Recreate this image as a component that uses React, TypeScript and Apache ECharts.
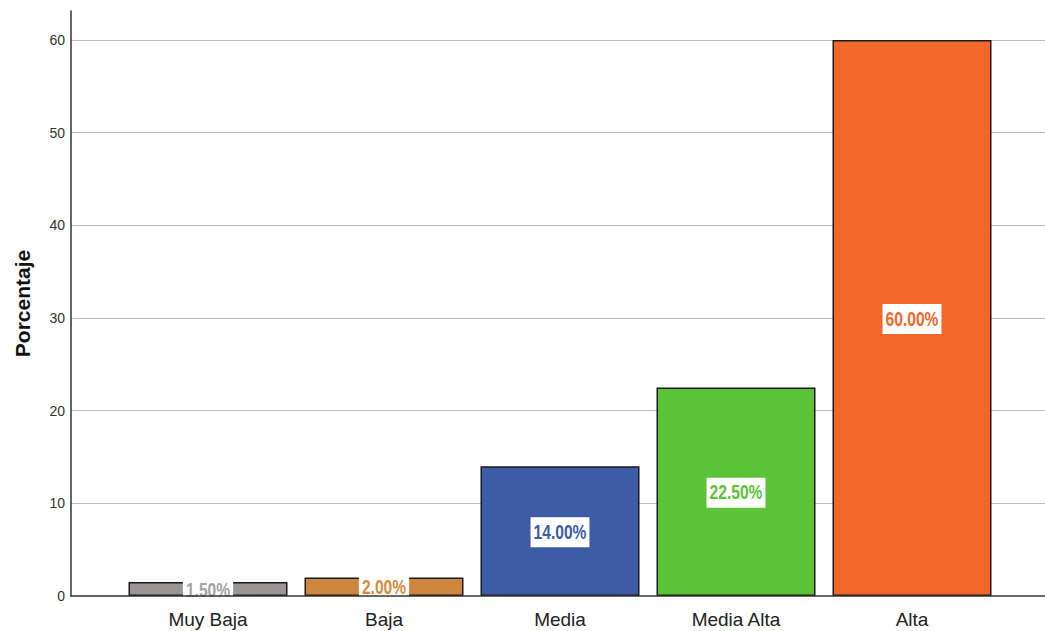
import React, { useEffect, useRef } from "react";
import * as echarts from "echarts";

const categories = ["Muy Baja", "Baja", "Media", "Media Alta", "Alta"];
const values = [1.5, 2.0, 14.0, 22.5, 60.0];
const barColors = ["#9a9696", "#cf873f", "#3e5ba8", "#5cc338", "#f2682b"];
const labelColors = ["#a3a3a3", "#d48c40", "#3e5ba8", "#5cc338", "#f2682b"];
const yTicks = [0, 10, 20, 30, 40, 50, 60];

const LABEL_FONT = "bold 19.5px 'Liberation Sans', Arial, sans-serif";
const LABEL_SCALE_X = 0.8;

function measure(text: string): number {
  const c = document.createElement("canvas").getContext("2d");
  if (!c) return text.length * 11;
  c.font = LABEL_FONT;
  return c.measureText(text).width;
}

export default function App() {
  const ref = useRef<HTMLDivElement>(null);
  useEffect(() => {
    document.body.style.margin = "0";
    const chart = echarts.init(ref.current!, null, { renderer: "svg" });
    const yMax = 63.13;
    chart.setOption({
      animation: false,
      backgroundColor: "#ffffff",
      grid: [
        { left: 71, right: 0, top: 11, bottom: 35 },
        { left: 120, right: 45, top: 11, bottom: 35 },
      ],
      xAxis: [
        {
          gridIndex: 0,
          type: "value",
          min: 0,
          max: 1,
          z: 10,
          axisLine: { show: true, onZero: false, lineStyle: { color: "#333", width: 1.5 } },
          axisTick: { show: false },
          axisLabel: { show: false },
          splitLine: { show: false },
        },
        {
          gridIndex: 1,
          type: "category",
          data: categories,
          axisLine: { show: false },
          axisTick: { show: false },
          axisLabel: {
            margin: 14,
            fontFamily: "Liberation Sans, Arial, sans-serif",
            fontSize: 19,
            color: "#222",
          },
        },
      ],
      yAxis: [
        {
          gridIndex: 0,
          type: "value",
          min: 0,
          max: yMax,
          interval: 10,
          name: "Porcentaje",
          nameLocation: "middle",
          nameGap: 38,
          nameTextStyle: {
            fontFamily: "Liberation Sans, Arial, sans-serif",
            fontWeight: "bold",
            fontSize: 21,
            color: "#111",
          },
          axisLine: { show: true, lineStyle: { color: "#333", width: 1.5 } },
          axisTick: { show: false },
          axisLabel: {
            showMaxLabel: false,
            margin: 6,
            fontFamily: "Liberation Sans, Arial, sans-serif",
            fontSize: 14,
            color: "#333",
            formatter: (v: number) => (yTicks.includes(v) ? String(v) : ""),
          },
          splitLine: {
            show: true,
            showMinLine: false,
            showMaxLine: false,
            lineStyle: { color: "#bdbdbd", width: 1 },
          },
        },
        {
          gridIndex: 1,
          type: "value",
          min: 0,
          max: yMax,
          show: false,
          splitLine: { show: false },
        },
      ],
      series: [
        {
          type: "bar",
          xAxisIndex: 1,
          yAxisIndex: 1,
          barWidth: 159,
          data: values.map((v, i) => ({
            value: v,
            itemStyle: { color: barColors[i], borderColor: "#1a1a1a", borderWidth: 1.5 },
          })),
        },
        {
          type: "custom",
          xAxisIndex: 1,
          yAxisIndex: 1,
          z: 3,
          data: values.map((v, i) => [i, v]),
          encode: { x: 0, y: 1 },
          renderItem: (params: any, api: any) => {
            const idx = api.value(0);
            const val = api.value(1);
            const p = api.coord([idx, val / 2]);
            const cy = p[1] + 1;
            const text = val.toFixed(2) + "%";
            const w = measure(text) * LABEL_SCALE_X + 6;
            const h = 30;
            return {
              type: "group",
              children: [
                {
                  type: "rect",
                  shape: { x: p[0] - w / 2, y: cy - h / 2, width: w, height: h },
                  style: { fill: "#ffffff" },
                },
                {
                  type: "text",
                  x: p[0],
                  y: cy,
                  scaleX: LABEL_SCALE_X,
                  style: {
                    text,
                    fill: labelColors[idx],
                    font: LABEL_FONT,
                    align: "center",
                    verticalAlign: "middle",
                  },
                },
              ],
            };
          },
        },
      ],
    });
    return () => chart.dispose();
  }, []);
  return <div ref={ref} style={{ width: 1045, height: 631 }} />;
}
